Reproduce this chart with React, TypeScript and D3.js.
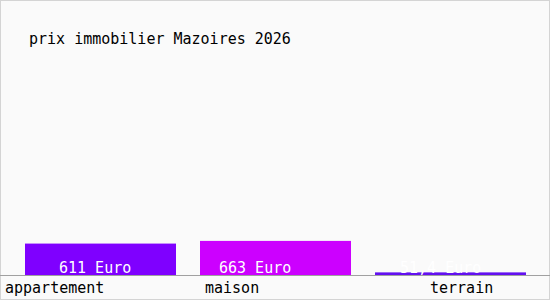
import React from "react";
import * as d3 from "d3";

const categories = ["appartement", "maison", "terrain"];
const values = [611, 663, 51];
const valueLabels = ["611 Euro", "663 Euro", "51,4 Euro"];
const colors = ["#7f00ff", "#cc00ff", "#6210f0"];
const title = "prix immobilier Mazoires 2026";

const W = 550;
const H = 300;
const baseY = 275;
const labelNudge = [-20, 5, 55];
const valueNudge = [34, 19, 25];

export default function App() {
  const xs = d3.scaleBand<string>().domain(categories).range([25, 526]).paddingInner(24 / 175).paddingOuter(0);
  const y = d3.scaleLinear().domain([0, 700]).range([baseY, baseY - 36]);
  const font = "'DejaVu Sans Mono', monospace";
  return (
    <svg width={W} height={H} style={{ position: "absolute", left: 0, top: 0 }} xmlns="http://www.w3.org/2000/svg">
      <rect x={0.5} y={0.5} width={W - 1} height={H - 1} fill="#fafafa" stroke="#d4d4d4" />
      <text x={29} y={44} fontFamily={font} fontSize={15} fill="#000">{title}</text>
      {categories.map((c, i) => {
        const bx = xs(c)!;
        const bw = xs.bandwidth();
        return (
          <g key={c}>
            <rect x={bx} y={y(values[i])} width={bw} height={baseY - y(values[i])} fill={colors[i]} />
            <text x={bx + valueNudge[i]} y={273} fontFamily={font} fontSize={15} fill="#fff">{valueLabels[i]}</text>
            <text x={bx + labelNudge[i]} y={293} fontFamily={font} fontSize={15} fill="#000">{c}</text>
          </g>
        );
      })}
      <line x1={0} x2={W} y1={baseY + 0.5} y2={baseY + 0.5} stroke="#a0a0a0" />
    </svg>
  );
}
